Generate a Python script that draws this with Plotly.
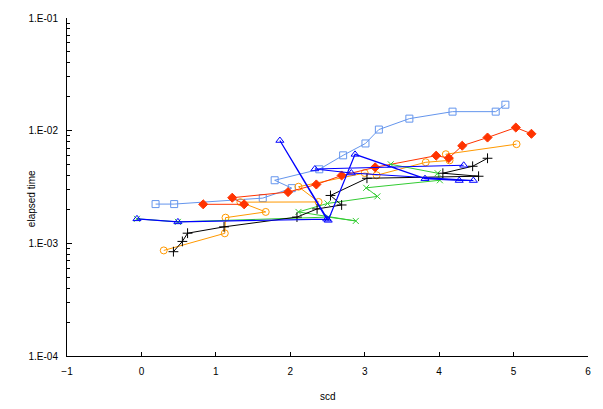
import plotly.graph_objects as go

# ---- data ----
sq_x = [0.19, 0.44, 1.63, 2.02, 1.79, 2.39, 2.71, 3.01, 3.19, 3.60, 4.18, 4.76, 4.89]
sq_y = [0.00223, 0.00223, 0.00252, 0.00309, 0.00363, 0.00454, 0.00604, 0.00770, 0.01023, 0.01279, 0.01475, 0.01475, 0.0170]

red_x = [0.83, 1.38, 1.22, 1.97, 2.35, 2.69, 3.14, 3.96, 4.13, 4.31, 4.65, 5.03, 5.24]
red_y = [0.00222, 0.00222, 0.00254, 0.00285, 0.00333, 0.00400, 0.00473, 0.00600, 0.00571, 0.00735, 0.00869, 0.01066, 0.00938]

ora_x = [0.30, 1.12, 1.13, 1.67, 1.33, 2.38, 2.11, 3.00, 3.16, 3.82, 4.14, 4.09, 5.04]
ora_y = [0.000865, 0.001227, 0.00169, 0.00190, 0.00232, 0.00233, 0.00318, 0.00421, 0.00402, 0.00524, 0.00545, 0.00618, 0.00759]

blk_x = [0.43, 0.55, 0.62, 1.11, 2.09, 2.36, 2.69, 2.54, 3.03, 4.53, 4.05, 4.45, 4.65]
blk_y = [0.000843, 0.00104, 0.00123, 0.00140, 0.00171, 0.00202, 0.00219, 0.00266, 0.00378, 0.00394, 0.00419, 0.00483, 0.00569]

grn_x = [-0.06, 0.49, 2.51, 2.88, 2.11, 2.50, 3.17, 3.02, 4.01, 3.98, 3.35]
grn_y = [0.00165, 0.00155, 0.00171, 0.00158, 0.00190, 0.00226, 0.00261, 0.00311, 0.00363, 0.00419, 0.00503]

blu_x = [-0.06, 0.49, 2.49, 1.86, 2.51, 2.87, 3.81, 4.27, 4.46, 2.82, 2.33, 4.33]
blu_y = [0.00165, 0.00155, 0.00164, 0.00818, 0.00160, 0.00616, 0.00375, 0.00361, 0.00361, 0.00421, 0.00457, 0.00493]

y_tickvals = [1e-4, 1e-3, 1e-2, 1e-1]
y_ticktext = ["1.E-04", "1.E-03", "1.E-02", "1.E-01"]
x_tickvals = [-1, 0, 1, 2, 3, 4, 5, 6]

FONT = "Liberation Sans, Arial, sans-serif"

fig = go.Figure()

def add(x, y, color, symbol, size, lw=1, mlw=1):
    fig.add_trace(go.Scatter(
        x=x, y=y, mode="lines+markers",
        line=dict(color=color, width=lw),
        marker=dict(symbol=symbol, size=size, color=color,
                    line=dict(color=color, width=mlw)),
        showlegend=False, hoverinfo="x+y"))

add(sq_x, sq_y, "#6495ED", "square-open", 7)
add(ora_x, ora_y, "#FF9900", "circle-open", 7)
add(red_x, red_y, "#FF3300", "diamond", 7)
add(grn_x, grn_y, "#33CC33", "x-thin-open", 6)
add(blk_x, blk_y, "#000000", "cross-thin-open", 7)
add(blu_x, blu_y, "#0000FF", "triangle-up-open", 7, lw=1.2)

fig.update_layout(
    width=603, height=409,
    margin=dict(l=67, r=12, t=16, b=53),
    paper_bgcolor="white", plot_bgcolor="white",
    font=dict(family=FONT, size=10, color="black"),
    showlegend=False,
    annotations=[
        dict(text="elapsed time", xref="paper", yref="paper",
             x=(32 - 67) / 524, y=(356 - 198) / 340, textangle=-90,
             showarrow=False, xanchor="center", yanchor="middle",
             font=dict(family=FONT, size=10, color="black")),
        dict(text="scd", xref="paper", yref="paper",
             x=(329 - 67) / 524, y=(356 - 397) / 340,
             showarrow=False, xanchor="center", yanchor="middle",
             font=dict(family=FONT, size=10, color="black")),
    ],
)

fig.update_xaxes(
    range=[-1, 6], tickvals=x_tickvals, showgrid=False, zeroline=False,
    showline=True, linecolor="black", linewidth=1,
    ticks="inside", ticklen=4, tickcolor="black",
    ticklabelstandoff=6,
)
fig.update_yaxes(
    type="log", range=[-4, -1], tickvals=y_tickvals, ticktext=y_ticktext,
    showgrid=False, zeroline=False,
    showline=True, linecolor="black", linewidth=1,
    ticks="inside", ticklen=5, tickcolor="black",
    minor=dict(ticks="inside", ticklen=3, tickcolor="black", showgrid=False,
               tickvals=[k * 10 ** e for e in (-4, -3, -2) for k in range(2, 10)]),
    ticklabelstandoff=6,
)

fig.write_html("out.html")
